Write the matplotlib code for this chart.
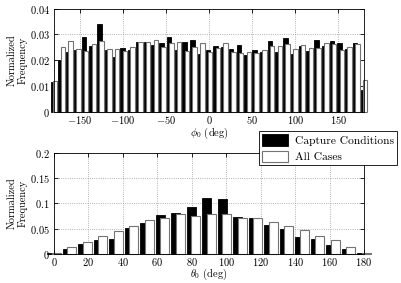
import numpy as np
import matplotlib
matplotlib.use("Agg")
from matplotlib import pyplot as plt

plt.rcParams['font.family'] = 'serif'
plt.rcParams['font.serif'] = ['cmr10']
plt.rcParams['mathtext.fontset'] = 'cm'
plt.rcParams['axes.formatter.use_mathtext'] = True
plt.rcParams['font.size'] = 7.5

# phi_0 histogram, bin centres -180:9:180
phi_centers = np.arange(-180, 181, 9)
phi_capture = [0.0115, 0.020, 0.023, 0.024, 0.029, 0.0255, 0.034, 0.024, 0.0213, 0.0249,
               0.024, 0.027, 0.027, 0.0258, 0.0266, 0.029, 0.024, 0.027, 0.028, 0.0223,
               0.024, 0.0255, 0.025, 0.0245, 0.026, 0.022, 0.024, 0.0233, 0.0275, 0.023,
               0.0285, 0.0225, 0.0255, 0.0236, 0.0277, 0.0254, 0.0275, 0.0268, 0.0244, 0.0268,
               0.0084]
phi_all = [0.012, 0.0253, 0.0273, 0.0245, 0.0236, 0.0262, 0.0273, 0.0245, 0.0243, 0.0236,
           0.0253, 0.027, 0.027, 0.028, 0.025, 0.0268, 0.027, 0.0236, 0.025, 0.0266,
           0.0232, 0.0249, 0.0266, 0.023, 0.0229, 0.0233, 0.0227, 0.024, 0.0256, 0.0256,
           0.0262, 0.0242, 0.026, 0.0249, 0.0246, 0.0268, 0.0262, 0.0241, 0.0253, 0.0262,
           0.0123]
phi_xticks = [-150, -100, -50, 0, 50, 100, 150]
phi_yticks = [0, 0.01, 0.02, 0.03, 0.04]
phi_yticklabels = ['0', '0.01', '0.02', '0.03', '0.04']

# theta_0 histogram, bin centres 0:9:180
theta_centers = np.arange(0, 181, 9)
theta_capture = [0.001, 0.0099, 0.0204, 0.0283, 0.0296, 0.0507, 0.0618, 0.0763, 0.080, 0.092,
                 0.1105, 0.1086, 0.073, 0.0704, 0.0572, 0.0487, 0.0336, 0.0296, 0.0184, 0.0092,
                 0.0013]
theta_all = [0.0026, 0.0138, 0.0243, 0.0349, 0.046, 0.0553, 0.067, 0.0704, 0.079, 0.0743,
             0.079, 0.079, 0.0704, 0.0717, 0.0625, 0.0553, 0.0467, 0.0349, 0.027, 0.0145,
             0.001]
theta_xticks = [0, 20, 40, 60, 80, 100, 120, 140, 160, 180]
theta_yticks = [0, 0.05, 0.1, 0.15, 0.2]
theta_yticklabels = ['0', '0.05', '0.1', '0.15', '0.2']

labels = ['Capture Conditions', 'All Cases']


def mt(v):
    return '$%s$' % v


def hist_pair(ax, centers, black, white, step):
    off = step * 0.143
    w = step * 0.571
    hb = ax.bar(centers - off, black, width=w, color='k', edgecolor='k',
                linewidth=0.6, clip_on=False, zorder=2)
    hw = ax.bar(centers + off, white, width=w, color='w', edgecolor='0.45',
                linewidth=0.8, clip_on=False, zorder=3)
    return hb, hw


def style(ax, xticks, yticks, ylabels, xlim, ylim):
    ax.set_xlim(*xlim)
    ax.set_ylim(*ylim)
    ax.set_xticks(xticks)
    ax.set_xticklabels([mt(t) for t in xticks])
    ax.set_yticks(yticks)
    ax.set_yticklabels([mt(t) for t in ylabels])
    ax.grid(True, linestyle=':', color='0.6', linewidth=0.6)
    ax.set_axisbelow(True)
    ax.tick_params(direction='in', top=True, right=True, length=3, width=0.6, pad=3)
    ax.tick_params(axis='x', pad=1.5)
    for s in ax.spines.values():
        s.set_linewidth(0.6)
        s.set_zorder(4)
    ax.set_ylabel('Normalized\nFrequency', linespacing=1.1)
    ax.yaxis.set_label_coords(-0.085, 0.5)


fig = plt.figure(figsize=(4.01, 2.83), dpi=100)
ax1 = fig.add_axes([0.1347, 0.606, 0.773, 0.363])
ax2 = fig.add_axes([0.1347, 0.1025, 0.773, 0.358])

hist_pair(ax1, phi_centers, phi_capture, phi_all, 9)
style(ax1, phi_xticks, phi_yticks, phi_yticklabels, (-180, 180), (0, 0.04))
ax1.set_xlabel(r'$\phi_0$ (deg)', labelpad=0)

hb, hw = hist_pair(ax2, theta_centers, theta_capture, theta_all, 9)
style(ax2, theta_xticks, theta_yticks, theta_yticklabels, (0, 180), (0, 0.2))
ax2.set_xlabel(r'$\theta_0$ (deg)', labelpad=-1)

leg = fig.legend([hb, hw], labels, loc='upper right', bbox_to_anchor=(397 / 401, 1 - 131 / 283),
                 fancybox=False, edgecolor='k', framealpha=1, handlelength=2.2,
                 handleheight=1.1, labelspacing=0.4, borderpad=0.3, handletextpad=0.6,
                 borderaxespad=0, fontsize=8.3)
leg.get_frame().set_linewidth(0.6)

fig.savefig('out.png', dpi=100)
